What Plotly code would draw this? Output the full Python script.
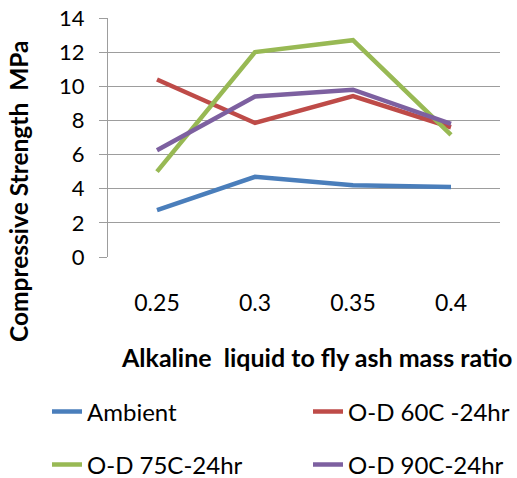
import plotly.graph_objects as go

categories = ["0.25", "0.3", "0.35", "0.4"]
ambient = [2.75, 4.7, 4.2, 4.1]
od60 = [10.4, 7.85, 9.43, 7.6]
od75 = [5.0, 12.0, 12.7, 7.15]
od90 = [6.25, 9.4, 9.8, 7.8]

FONT = "Lato"
L, R, T, B = 108, 17, 18, 221
W, H = 517, 478
pw, ph = W - L - R, H - T - B

def px(x):
    return (x - L) / pw

def py(y):
    return (H - B - y) / ph

# name, values, colour, legend id, legend left (px), legend row centre (px)
series = [
    ("Ambient", ambient, "#4a7ebb", "legend", 47, 412),
    ("O-D 60C -24hr", od60, "#be4b48", "legend2", 308, 412),
    ("O-D 75C-24hr", od75, "#98b954", "legend3", 47, 465),
    ("O-D 90C-24hr", od90, "#7d60a0", "legend4", 308, 465),
]

fig = go.Figure()
legends = {}
for name, vals, col, lg, lx, ly in series:
    fig.add_trace(go.Scatter(x=categories, y=vals, mode="lines", name=name,
                             line=dict(color=col, width=4.5), legend=lg, showlegend=True))
    legends[lg] = dict(orientation="h", x=px(lx), xanchor="left", y=py(ly), yanchor="middle",
                       font=dict(size=24, family=FONT), bgcolor="rgba(0,0,0,0)")

fig.update_layout(
    width=W, height=H, showlegend=True,
    margin=dict(l=L, r=R, t=T, b=B, autoexpand=False),
    plot_bgcolor="white", paper_bgcolor="white",
    font=dict(family=FONT, color="#000000"),
    xaxis=dict(type="category", showgrid=False, showline=False, zeroline=False,
               ticks="", tickfont=dict(size=23, family=FONT),
               ticklabelstandoff=30, range=[-0.5, 3.5]),
    yaxis=dict(range=[0, 14], dtick=2, showgrid=True, gridcolor="#9d9d9d",
               gridwidth=1.2, zeroline=False, showline=True, linecolor="#9d9d9d",
               linewidth=1.2, ticks="outside", ticklen=8, tickcolor="#9d9d9d",
               tickfont=dict(size=22, family=FONT), ticklabelstandoff=10),
    annotations=[
        dict(text="<b>Compressive Strength  MPa</b>", xref="paper", yref="paper",
             x=px(18), y=py(191), textangle=-90, showarrow=False,
             font=dict(size=24.5, family=FONT), xanchor="center", yanchor="middle"),
        dict(text="<b>Alkaline  liquid to fly ash mass ratio</b>", xref="paper", yref="paper",
             x=px(316), y=py(357), showarrow=False,
             font=dict(size=25, family=FONT), xanchor="center", yanchor="middle"),
    ],
    **legends,
)

fig.write_html("out.html")
